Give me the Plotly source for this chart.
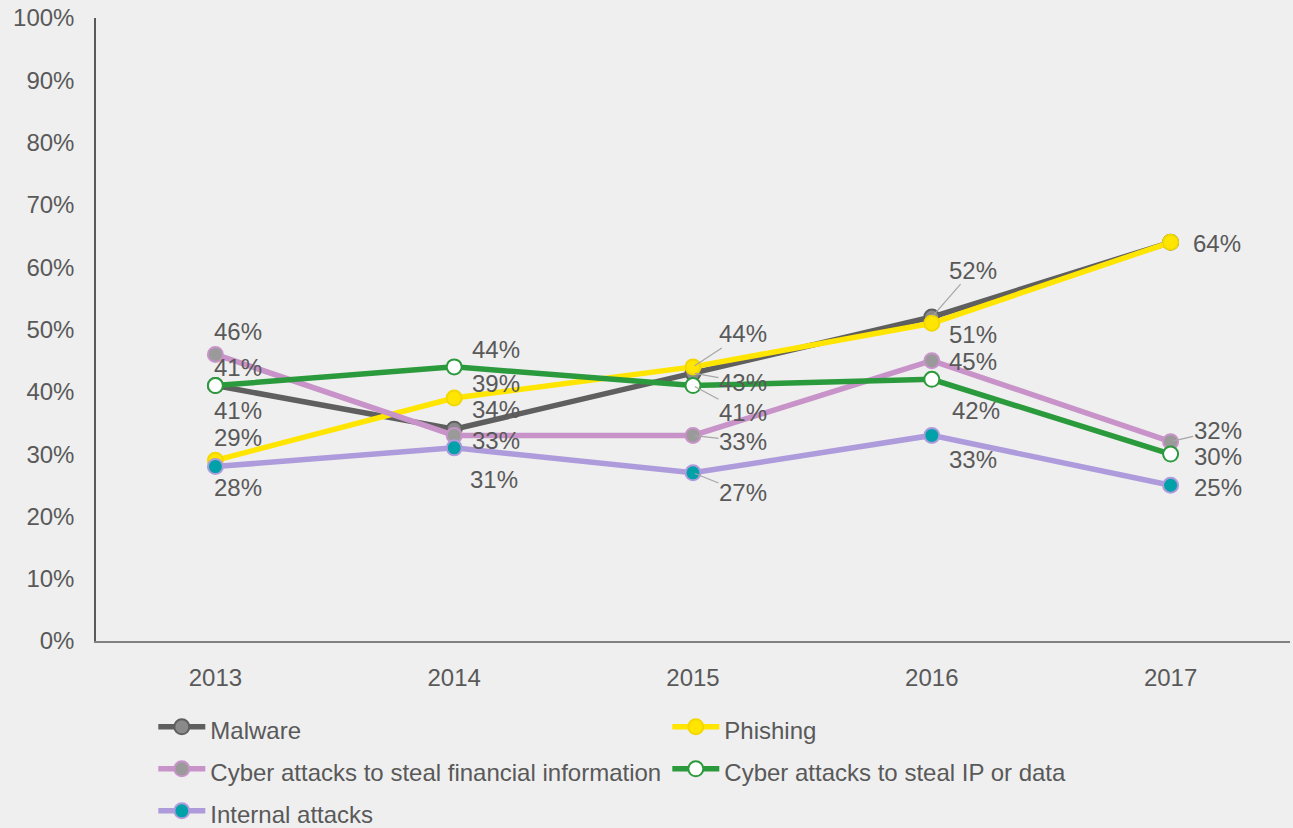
import plotly.graph_objects as go

# Survey years and share of respondents per threat (%)
years = ["2013", "2014", "2015", "2016", "2017"]
malware = [41, 34, 43, 52, 64]
phishing = [29, 39, 44, 51, 64]
financial = [46, 33, 33, 45, 32]
ip_data = [41, 44, 41, 42, 30]
internal = [28, 31, 27, 33, 25]

names = [
    "Malware",
    "Phishing",
    "Cyber attacks to steal financial information",
    "Cyber attacks to steal IP or data",
    "Internal attacks",
]
series = [malware, phishing, financial, ip_data, internal]

# Styling per series: line colour, marker fill, marker outline
styles = [
    dict(line="#5f5f5f", fill="#8a8a8a", edge="#5f5f5f"),
    dict(line="#ffe500", fill="#ffe500", edge="#f2d800"),
    dict(line="#c893c8", fill="#9a9a9a", edge="#c893c8"),
    dict(line="#2b9a3c", fill="#ffffff", edge="#2b9a3c"),
    dict(line="#ae9bdc", fill="#00a1a8", edge="#ae9bdc"),
]

# Label placement: (dx, dy) pixel offsets of the label centre from its point,
# a flag for a leader line, or None to leave the point unlabelled.
label_pos = [
    [(23, -18, False), (42, -20, False), (50, 9, True), (41, -47, True), None],
    [(23, -23, False), (42, -15, False), (50, -33, True), (41, 11, False), (46, 1, False)],
    [(23, -23, False), (42, 5, False), (50, 6, True), (41, 1, False), (47, -11, True)],
    [(23, 25, False), (42, -17, False), (50, 27, True), (44, 31, False), (47, 2, False)],
    [(23, 21, False), (40, 32, False), (50, 20, True), (41, 24, False), (47, 2, False)],
]

TEXT = "#595959"
FONT = "Arial, Liberation Sans, sans-serif"
SIZE = 24

fig = go.Figure()
for name, vals, st in zip(names, series, styles):
    fig.add_trace(go.Scatter(
        x=years, y=vals, mode="lines+markers",
        # legend rows are spaced by the legend font size; the visible text stays at SIZE
        name=f"<span style='font-size:{SIZE}px'>{name}</span>",
        line=dict(color=st["line"], width=5.5),
        marker=dict(size=15, color=st["fill"], line=dict(color=st["edge"], width=2)),
        cliponaxis=False,
    ))

annotations = []
for vals, positions in zip(series, label_pos):
    for idx, (v, pos) in enumerate(zip(vals, positions)):
        if pos is None:
            continue
        dx, dy, leader = pos
        # category axis: annotations are positioned by category index
        base = dict(x=idx, y=v, text=f"{v}%", xref="x", yref="y",
                    font=dict(size=SIZE, color=TEXT, family=FONT))
        if leader:
            annotations.append(dict(base, showarrow=True, arrowhead=0, arrowwidth=1.2,
                                    arrowcolor="#a6a6a6", ax=dx, ay=dy, standoff=2,
                                    xanchor="center", yanchor="middle", borderpad=0))
        else:
            annotations.append(dict(base, showarrow=False, xshift=dx, yshift=-dy,
                                    xanchor="center", yanchor="middle"))

fig.update_layout(
    width=1293, height=828,
    margin=dict(l=96, r=3, t=18, b=187, autoexpand=False),
    paper_bgcolor="#efefef", plot_bgcolor="#efefef",
    font=dict(family=FONT, size=SIZE, color=TEXT),
    showlegend=True,
    legend=dict(
        orientation="h", x=0.048, y=-0.096, xanchor="left", yanchor="top",
        entrywidth=452, entrywidthmode="pixels", itemwidth=47,
        font=dict(size=30, color=TEXT, family=FONT), bgcolor="rgba(0,0,0,0)",
    ),
    annotations=annotations,
)
fig.update_xaxes(
    type="category", range=[-0.5, 4.5], showgrid=False, zeroline=False,
    showline=True, linecolor="#808080", linewidth=1.5, ticks="",
    ticklabelstandoff=14, tickfont=dict(size=SIZE, color=TEXT),
)
fig.update_yaxes(
    range=[0, 100], dtick=10, ticksuffix="%", showgrid=False, zeroline=False,
    showline=True, linecolor="#595959", linewidth=1.5, ticks="",
    ticklabelstandoff=15, tickfont=dict(size=SIZE, color=TEXT),
)

fig.write_html("out.html")
